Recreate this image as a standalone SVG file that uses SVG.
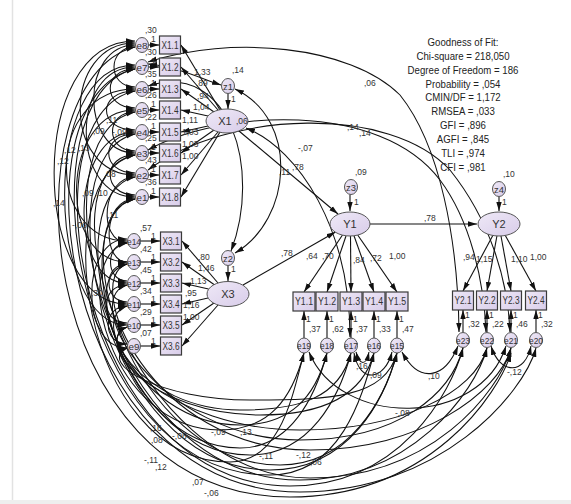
<svg xmlns="http://www.w3.org/2000/svg" width="571" height="504" viewBox="0 0 571 504">
<defs>
<marker id="ah" viewBox="0 0 10 6" refX="10" refY="3" markerWidth="9" markerHeight="6" markerUnits="userSpaceOnUse" orient="auto-start-reverse"><path d="M0,0L10,3L0,6z" fill="#111"/></marker>
<linearGradient id="gf" x1="0" y1="0" x2="1" y2="1"><stop offset="0" stop-color="#efe9f7"/><stop offset="1" stop-color="#d8cce9"/></linearGradient>
</defs>
<style>
.bx{fill:url(#gf);stroke:#3a3a3a;stroke-width:1.2}
.el{fill:url(#gf);stroke:#555;stroke-width:1}
.nt{font-family:"Liberation Sans",Arial,sans-serif;font-size:10px;fill:#333;text-anchor:middle}
.ct{font-family:"Liberation Sans",Arial,sans-serif;font-size:9px;fill:#333;text-anchor:middle}
.lt{font-family:"Liberation Sans",Arial,sans-serif;font-size:11px;fill:#333;text-anchor:middle}
.lb{font-family:"Liberation Sans",Arial,sans-serif;font-size:8.5px;fill:#333}
.gf{font-family:"Liberation Sans",Arial,sans-serif;font-size:10.5px;fill:#222;text-anchor:middle}
.rg{fill:none;stroke:#111;stroke-width:1.1;marker-end:url(#ah)}
.cv{fill:none;stroke:#111;stroke-width:1.05;marker-start:url(#ah);marker-end:url(#ah)}
</style>
<rect x="0" y="0" width="571" height="504" fill="#fff"/>
<line x1="12.5" y1="0" x2="12.5" y2="500" stroke="#e2e2e2" stroke-width="1.5"/>
<rect x="0" y="500" width="571" height="4" fill="#eeeeee"/>

<g id="connectors">
<path class="rg" d="M220,110 L181,45"/>
<path class="rg" d="M218,110 L181,67"/>
<path class="rg" d="M214,112 L181,89"/>
<path class="rg" d="M208,116 L181,110"/>
<path class="rg" d="M208,126 L181,132"/>
<path class="rg" d="M214,130 L181,153"/>
<path class="rg" d="M218,132 L181,175"/>
<path class="rg" d="M220,132 L181,197"/>
<path class="rg" d="M228,93.5 L228,109"/>
<path class="rg" d="M218,283 L182,241"/>
<path class="rg" d="M214,284.5 L182,262"/>
<path class="rg" d="M208.5,289 L182,283"/>
<path class="rg" d="M208,298 L182,304"/>
<path class="rg" d="M214,303 L182,325"/>
<path class="rg" d="M218,305 L182,346"/>
<path class="rg" d="M228,265.5 L228,281"/>
<path class="rg" d="M148.5,45 L159,45"/>
<path class="rg" d="M148.5,67 L159,67"/>
<path class="rg" d="M148.5,89 L159,89"/>
<path class="rg" d="M148.5,110 L159,110"/>
<path class="rg" d="M148.5,132 L159,132"/>
<path class="rg" d="M148.5,153 L159,153"/>
<path class="rg" d="M148.5,175 L159,175"/>
<path class="rg" d="M148.5,197 L159,197"/>
<path class="rg" d="M140.5,241 L160,241"/>
<path class="rg" d="M140.5,262 L160,262"/>
<path class="rg" d="M140.5,283 L160,283"/>
<path class="rg" d="M140.5,304 L160,304"/>
<path class="rg" d="M140.5,325 L160,325"/>
<path class="rg" d="M140.5,346 L160,346"/>
<path class="rg" d="M239,131 L338,214"/>
<path class="rg" d="M243,285 L335.5,232"/>
<path class="rg" d="M370,224 L477,224"/>
<path class="rg" d="M350,194.5 L350,211"/>
<path class="rg" d="M499,196.5 L499,211"/>
<path class="rg" d="M342.5,235 L304,292"/>
<path class="rg" d="M346,236 L327,292"/>
<path class="rg" d="M350.5,236 L351,292"/>
<path class="rg" d="M354,235.7 L374,292"/>
<path class="rg" d="M357.7,235 L397,292"/>
<path class="rg" d="M492.8,235.5 L463,291"/>
<path class="rg" d="M496.9,236 L487,291"/>
<path class="rg" d="M501,236 L511,291"/>
<path class="rg" d="M505.3,235.4 L536,291"/>
<path class="rg" d="M304,338 L304,311"/>
<path class="rg" d="M327,338 L327,311"/>
<path class="rg" d="M351,338 L351,311"/>
<path class="rg" d="M374,338 L374,311"/>
<path class="rg" d="M397,338 L397,311"/>
<path class="rg" d="M463,332.5 L463,310"/>
<path class="rg" d="M487,332.5 L487,310"/>
<path class="rg" d="M511,332.5 L511,310"/>
<path class="rg" d="M536,332.5 L536,310"/>

<path class="cv" d="M135,47 C107,47 107,87 135,87"/>
<path class="cv" d="M135,69 C102,69 102,108 135,108"/>
<path class="cv" d="M135,91 C97,91 97,130 135,130"/>
<path class="cv" d="M135,112 C105,112 105,151 135,151"/>
<path class="cv" d="M135,134 C100,134 100,173 135,173"/>
<path class="cv" d="M135,155 C102,155 102,195 135,195"/>
<path class="cv" d="M135,45 C80,45 80,153 135,153"/>
<path class="cv" d="M135,67 C70,67 70,197 135,197"/>
<path class="cv" d="M135,43 C62,43 62,175 135,175"/>
<path class="cv" d="M135,89 C45,89 45,241 127,241"/>
<path class="cv" d="M135,110 C60,110 57,262 127,262"/>
<path class="cv" d="M135,132 C70,132 67,283 127,283"/>
<path class="cv" d="M135,177 C102,177 97,241 127,243"/>
<path class="cv" d="M135,41 C25,41 32,304 127,304"/>
<path class="cv" d="M135,65 C38,65 47,325 127,325"/>
<path class="cv" d="M127,243 C105,243 105,281 127,281"/>
<path class="cv" d="M127,264 C103,264 103,302 127,302"/>
<path class="cv" d="M127,285 C100,285 100,323 127,323"/>
<path class="cv" d="M127,306 C102,306 102,344 127,344"/>
<path class="cv" d="M127,239 C80,239 80,348 127,348"/>
<path class="cv" d="M135,199 C102,199 102,262 127,262"/>

<path class="cv" d="M135,47 C5,80 30,497 290,497 C430,497 499,393 511,353"/>
<path class="cv" d="M135,69 C10,95 60,492 300,492 C440,492 524,393 536,348"/>
<path class="cv" d="M135,91 C20,115 80,486 290,486 C400,486 451,393 463,348"/>
<path class="cv" d="M135,112 C30,135 100,480 300,480 C410,480 475,393 487,348"/>
<path class="cv" d="M135,134 C40,155 100,470 270,470 C350,470 385,398 397,353"/>
<path class="cv" d="M135,155 C45,175 80,462 230,462 C280,462 292,398 304,353"/>
<path class="cv" d="M135,177 C55,195 110,455 250,455 C310,455 339,398 351,353"/>
<path class="cv" d="M135,199 C65,214 110,448 240,448 C290,448 315,398 327,353"/>
<path class="cv" d="M135,69 C20,95 70,475 270,475 C340,475 362,398 374,353"/>
<path class="cv" d="M127,243 C67,258 110,430 220,430 C270,430 292,398 304,353"/>
<path class="cv" d="M127,264 C72,279 130,425 240,425 C290,425 315,398 327,353"/>
<path class="cv" d="M127,285 C77,300 160,440 300,440 C400,440 451,393 463,348"/>
<path class="cv" d="M127,306 C87,321 140,410 240,410 C300,410 339,398 351,353"/>
<path class="cv" d="M127,327 C87,342 170,430 300,430 C400,430 475,393 487,348"/>
<path class="cv" d="M127,348 C97,363 160,400 250,400 C330,400 385,398 397,353"/>
<path class="cv" d="M127,327 C92,342 150,415 260,415 C320,415 362,398 374,353"/>
<path class="cv" d="M127,264 C80,279 150,450 310,450 C420,450 499,393 511,348"/>
<path class="cv" d="M135,155 C35,175 130,478 310,478 C430,478 499,393 511,348"/>
<path class="cv" d="M135,199 C57,214 130,465 280,465 C350,465 385,398 397,353"/>
<path class="cv" d="M309,352 C340,428 480,428 506,346"/>
<path class="cv" d="M356,352 C360,366 366,366 369,352"/>
<path class="cv" d="M354,353 C360,385 385,380 392,352"/>
<path class="cv" d="M402,352 C420,385 445,378 458,346"/>
<path class="cv" d="M491,346 C500,375 525,375 531,346"/>
<path class="cv" d="M148,62 C230,35 350,45 400,95 C440,145 458,240 459,332"/>
<path class="cv" d="M148,150 C220,110 380,100 440,180 C470,220 484,280 486,332"/>
<path class="cv" d="M148,170 C230,110 390,105 450,170 C490,220 508,280 510,332"/>
<path class="cv" d="M246,128 C300,150 350,230 350,337"/>
<path class="cv" d="M148,64 C175,66 200,78 221,85"/>
<path class="cv" d="M235,89 C300,120 292,220 235,253"/>
<path class="cv" d="M148,86 C230,60 262,170 231,251"/>
</g>

<g id="X1.1"><rect class="bx" x="159.5" y="36" width="21" height="18"/><text class="nt" x="170" y="48.5" textLength="17" lengthAdjust="spacingAndGlyphs">X1.1</text></g>
<g id="X1.2"><rect class="bx" x="159.5" y="58" width="21" height="18"/><text class="nt" x="170" y="70.5" textLength="17" lengthAdjust="spacingAndGlyphs">X1.2</text></g>
<g id="X1.3"><rect class="bx" x="159.5" y="80" width="21" height="18"/><text class="nt" x="170" y="92.5" textLength="17" lengthAdjust="spacingAndGlyphs">X1.3</text></g>
<g id="X1.4"><rect class="bx" x="159.5" y="101" width="21" height="18"/><text class="nt" x="170" y="113.5" textLength="17" lengthAdjust="spacingAndGlyphs">X1.4</text></g>
<g id="X1.5"><rect class="bx" x="159.5" y="123" width="21" height="18"/><text class="nt" x="170" y="135.5" textLength="17" lengthAdjust="spacingAndGlyphs">X1.5</text></g>
<g id="X1.6"><rect class="bx" x="159.5" y="144" width="21" height="18"/><text class="nt" x="170" y="156.5" textLength="17" lengthAdjust="spacingAndGlyphs">X1.6</text></g>
<g id="X1.7"><rect class="bx" x="159.5" y="166" width="21" height="18"/><text class="nt" x="170" y="178.5" textLength="17" lengthAdjust="spacingAndGlyphs">X1.7</text></g>
<g id="X1.8"><rect class="bx" x="159.5" y="188" width="21" height="18"/><text class="nt" x="170" y="200.5" textLength="17" lengthAdjust="spacingAndGlyphs">X1.8</text></g>

<g id="X3.1"><rect class="bx" x="160.5" y="232" width="21" height="18"/><text class="nt" x="171" y="244.5" textLength="17" lengthAdjust="spacingAndGlyphs">X3.1</text></g>
<g id="X3.2"><rect class="bx" x="160.5" y="253" width="21" height="18"/><text class="nt" x="171" y="265.5" textLength="17" lengthAdjust="spacingAndGlyphs">X3.2</text></g>
<g id="X3.3"><rect class="bx" x="160.5" y="274" width="21" height="18"/><text class="nt" x="171" y="286.5" textLength="17" lengthAdjust="spacingAndGlyphs">X3.3</text></g>
<g id="X3.4"><rect class="bx" x="160.5" y="295" width="21" height="18"/><text class="nt" x="171" y="307.5" textLength="17" lengthAdjust="spacingAndGlyphs">X3.4</text></g>
<g id="X3.5"><rect class="bx" x="160.5" y="316" width="21" height="18"/><text class="nt" x="171" y="328.5" textLength="17" lengthAdjust="spacingAndGlyphs">X3.5</text></g>
<g id="X3.6"><rect class="bx" x="160.5" y="337" width="21" height="18"/><text class="nt" x="171" y="349.5" textLength="17" lengthAdjust="spacingAndGlyphs">X3.6</text></g>

<g id="e8"><ellipse class="el" cx="142" cy="45" rx="6.5" ry="7.5"/><text class="ct" x="142" y="48.5" textLength="11" lengthAdjust="spacingAndGlyphs">e8</text></g>
<g id="e7"><ellipse class="el" cx="142" cy="67" rx="6.5" ry="7.5"/><text class="ct" x="142" y="70.5" textLength="11" lengthAdjust="spacingAndGlyphs">e7</text></g>
<g id="e6"><ellipse class="el" cx="142" cy="89" rx="6.5" ry="7.5"/><text class="ct" x="142" y="92.5" textLength="11" lengthAdjust="spacingAndGlyphs">e6</text></g>
<g id="e5"><ellipse class="el" cx="142" cy="110" rx="6.5" ry="7.5"/><text class="ct" x="142" y="113.5" textLength="11" lengthAdjust="spacingAndGlyphs">e5</text></g>
<g id="e4"><ellipse class="el" cx="142" cy="132" rx="6.5" ry="7.5"/><text class="ct" x="142" y="135.5" textLength="11" lengthAdjust="spacingAndGlyphs">e4</text></g>
<g id="e3"><ellipse class="el" cx="142" cy="153" rx="6.5" ry="7.5"/><text class="ct" x="142" y="156.5" textLength="11" lengthAdjust="spacingAndGlyphs">e3</text></g>
<g id="e2"><ellipse class="el" cx="142" cy="175" rx="6.5" ry="7.5"/><text class="ct" x="142" y="178.5" textLength="11" lengthAdjust="spacingAndGlyphs">e2</text></g>
<g id="e1"><ellipse class="el" cx="142" cy="197" rx="6.5" ry="7.5"/><text class="ct" x="142" y="200.5" textLength="11" lengthAdjust="spacingAndGlyphs">e1</text></g>

<g id="e14"><ellipse class="el" cx="134" cy="241" rx="6.5" ry="7.5"/><text class="ct" x="134" y="244.5" textLength="14" lengthAdjust="spacingAndGlyphs">e14</text></g>
<g id="e13"><ellipse class="el" cx="134" cy="262" rx="6.5" ry="7.5"/><text class="ct" x="134" y="265.5" textLength="14" lengthAdjust="spacingAndGlyphs">e13</text></g>
<g id="e12"><ellipse class="el" cx="134" cy="283" rx="6.5" ry="7.5"/><text class="ct" x="134" y="286.5" textLength="14" lengthAdjust="spacingAndGlyphs">e12</text></g>
<g id="e11"><ellipse class="el" cx="134" cy="304" rx="6.5" ry="7.5"/><text class="ct" x="134" y="307.5" textLength="14" lengthAdjust="spacingAndGlyphs">e11</text></g>
<g id="e10"><ellipse class="el" cx="134" cy="325" rx="6.5" ry="7.5"/><text class="ct" x="134" y="328.5" textLength="14" lengthAdjust="spacingAndGlyphs">e10</text></g>
<g id="e9"><ellipse class="el" cx="134" cy="346" rx="6.5" ry="7.5"/><text class="ct" x="134" y="349.5" textLength="11" lengthAdjust="spacingAndGlyphs">e9</text></g>

<g id="X1"><ellipse class="el" cx="227" cy="121" rx="21" ry="12"/><text class="lt" x="225" y="125">X1</text><text class="lb" x="236" y="124">,06</text></g>
<g id="z1"><ellipse class="el" cx="228" cy="86" rx="6.5" ry="7.5"/><text class="ct" x="228" y="89.5" textLength="10" lengthAdjust="spacingAndGlyphs">z1</text></g>
<g id="X3"><ellipse class="el" cx="228" cy="294" rx="21" ry="12.5"/><text class="lt" x="228" y="298">X3</text></g>
<g id="z2"><ellipse class="el" cx="228" cy="258" rx="6.5" ry="7.5"/><text class="ct" x="228" y="261.5" textLength="10" lengthAdjust="spacingAndGlyphs">z2</text></g>
<g id="Y1"><ellipse class="el" cx="350" cy="224" rx="20" ry="12"/><text class="lt" x="350" y="228">Y1</text></g>
<g id="z3"><ellipse class="el" cx="351" cy="187" rx="6.5" ry="7.5"/><text class="ct" x="351" y="190.5" textLength="10" lengthAdjust="spacingAndGlyphs">z3</text></g>
<g id="Y2"><ellipse class="el" cx="499" cy="224" rx="21" ry="12"/><text class="lt" x="499" y="228">Y2</text></g>
<g id="z4"><ellipse class="el" cx="499" cy="189" rx="6.5" ry="7.5"/><text class="ct" x="499" y="192.5" textLength="10" lengthAdjust="spacingAndGlyphs">z4</text></g>

<g id="Y1.1"><rect class="bx" x="293" y="292" width="22" height="19"/><text class="nt" x="304" y="305" textLength="18" lengthAdjust="spacingAndGlyphs">Y1.1</text></g>
<g id="Y1.2"><rect class="bx" x="316" y="292" width="22" height="19"/><text class="nt" x="327" y="305" textLength="18" lengthAdjust="spacingAndGlyphs">Y1.2</text></g>
<g id="Y1.3"><rect class="bx" x="340" y="292" width="22" height="19"/><text class="nt" x="351" y="305" textLength="18" lengthAdjust="spacingAndGlyphs">Y1.3</text></g>
<g id="Y1.4"><rect class="bx" x="363" y="292" width="22" height="19"/><text class="nt" x="374" y="305" textLength="18" lengthAdjust="spacingAndGlyphs">Y1.4</text></g>
<g id="Y1.5"><rect class="bx" x="386" y="292" width="22" height="19"/><text class="nt" x="397" y="305" textLength="18" lengthAdjust="spacingAndGlyphs">Y1.5</text></g>
<g id="Y2.1"><rect class="bx" x="452.5" y="291" width="21" height="19"/><text class="nt" x="463" y="304" textLength="17" lengthAdjust="spacingAndGlyphs">Y2.1</text></g>
<g id="Y2.2"><rect class="bx" x="476.5" y="291" width="21" height="19"/><text class="nt" x="487" y="304" textLength="17" lengthAdjust="spacingAndGlyphs">Y2.2</text></g>
<g id="Y2.3"><rect class="bx" x="500.5" y="291" width="21" height="19"/><text class="nt" x="511" y="304" textLength="17" lengthAdjust="spacingAndGlyphs">Y2.3</text></g>
<g id="Y2.4"><rect class="bx" x="525.5" y="291" width="21" height="19"/><text class="nt" x="536" y="304" textLength="17" lengthAdjust="spacingAndGlyphs">Y2.4</text></g>

<g id="e19"><ellipse class="el" cx="304" cy="345.5" rx="6.5" ry="7.5"/><text class="ct" x="304" y="349" textLength="14" lengthAdjust="spacingAndGlyphs">e19</text></g>
<g id="e18"><ellipse class="el" cx="327" cy="345.5" rx="6.5" ry="7.5"/><text class="ct" x="327" y="349" textLength="14" lengthAdjust="spacingAndGlyphs">e18</text></g>
<g id="e17"><ellipse class="el" cx="351" cy="345.5" rx="6.5" ry="7.5"/><text class="ct" x="351" y="349" textLength="14" lengthAdjust="spacingAndGlyphs">e17</text></g>
<g id="e16"><ellipse class="el" cx="374" cy="345.5" rx="6.5" ry="7.5"/><text class="ct" x="374" y="349" textLength="14" lengthAdjust="spacingAndGlyphs">e16</text></g>
<g id="e15"><ellipse class="el" cx="397" cy="345.5" rx="6.5" ry="7.5"/><text class="ct" x="397" y="349" textLength="14" lengthAdjust="spacingAndGlyphs">e15</text></g>
<g id="e23"><ellipse class="el" cx="463" cy="340" rx="6.5" ry="7.5"/><text class="ct" x="463" y="343.5" textLength="14" lengthAdjust="spacingAndGlyphs">e23</text></g>
<g id="e22"><ellipse class="el" cx="487" cy="340" rx="6.5" ry="7.5"/><text class="ct" x="487" y="343.5" textLength="14" lengthAdjust="spacingAndGlyphs">e22</text></g>
<g id="e21"><ellipse class="el" cx="511" cy="340" rx="6.5" ry="7.5"/><text class="ct" x="511" y="343.5" textLength="14" lengthAdjust="spacingAndGlyphs">e21</text></g>
<g id="e20"><ellipse class="el" cx="536" cy="340" rx="6.5" ry="7.5"/><text class="ct" x="536" y="343.5" textLength="14" lengthAdjust="spacingAndGlyphs">e20</text></g>

<g id="labels">
<text class="lb" x="145" y="33">,30</text><text class="lb" x="151" y="42">1</text>
<text class="lb" x="145" y="55">,30</text><text class="lb" x="151" y="64">1</text>
<text class="lb" x="145" y="77">,35</text><text class="lb" x="151" y="86">1</text>
<text class="lb" x="145" y="98">,26</text><text class="lb" x="151" y="107">1</text>
<text class="lb" x="145" y="120">,22</text><text class="lb" x="151" y="129">1</text>
<text class="lb" x="145" y="141">,25</text><text class="lb" x="151" y="150">1</text>
<text class="lb" x="145" y="163">,43</text><text class="lb" x="151" y="172">1</text>
<text class="lb" x="145" y="185">,36</text><text class="lb" x="151" y="194">1</text>
<text class="lb" x="140" y="231">,57</text><text class="lb" x="151" y="239">1</text>
<text class="lb" x="140" y="252">,42</text><text class="lb" x="151" y="260">1</text>
<text class="lb" x="140" y="273">,45</text><text class="lb" x="151" y="281">1</text>
<text class="lb" x="140" y="294">,34</text><text class="lb" x="151" y="302">1</text>
<text class="lb" x="140" y="315">,29</text><text class="lb" x="151" y="323">1</text>
<text class="lb" x="140" y="336">,07</text><text class="lb" x="151" y="344">1</text>
<text class="lb" x="194" y="75">1,33</text>
<text class="lb" x="196" y="86">,89</text>
<text class="lb" x="197" y="99">,94</text>
<text class="lb" x="193" y="110">1,04</text>
<text class="lb" x="182" y="123">1,11</text>
<text class="lb" x="182" y="135">1,03</text>
<text class="lb" x="182" y="147">1,03</text>
<text class="lb" x="182" y="159">1,00</text>
<text class="lb" x="198" y="260">,80</text>
<text class="lb" x="198" y="271">1,46</text>
<text class="lb" x="190" y="284">1,13</text>
<text class="lb" x="185" y="296">,95</text>
<text class="lb" x="183" y="308">1,16</text>
<text class="lb" x="183" y="320">1,00</text>
<text class="lb" x="232" y="73">,14</text><text class="lb" x="231" y="102">1</text>
<text class="lb" x="231" y="272">1</text>
<text class="lb" x="355" y="175">,09</text><text class="lb" x="354" y="205">1</text>
<text class="lb" x="503" y="177">,10</text><text class="lb" x="502" y="205">1</text>
<text class="lb" x="292" y="170">,78</text>
<text class="lb" x="279" y="175">,11</text>
<text class="lb" x="298" y="151">-,07</text>
<text class="lb" x="281" y="256">,78</text>
<text class="lb" x="424" y="221">,78</text>
<text class="lb" x="347" y="130">,14</text>
<text class="lb" x="359" y="136">,14</text>
<text class="lb" x="364" y="86">,06</text>
<text class="lb" x="306" y="259">,64</text>
<text class="lb" x="322" y="259">,70</text>
<text class="lb" x="353" y="263">,84</text>
<text class="lb" x="370" y="261">,72</text>
<text class="lb" x="389" y="259">1,00</text>
<text class="lb" x="463" y="260">,94</text>
<text class="lb" x="476" y="262">1,15</text>
<text class="lb" x="511" y="262">1,10</text>
<text class="lb" x="530" y="260">1,00</text>
<text class="lb" x="306" y="322">1</text><text class="lb" x="309" y="332">,37</text>
<text class="lb" x="329" y="322">1</text><text class="lb" x="332" y="332">,62</text>
<text class="lb" x="353" y="322">1</text><text class="lb" x="356" y="332">,37</text>
<text class="lb" x="376" y="322">1</text><text class="lb" x="379" y="332">,33</text>
<text class="lb" x="399" y="322">1</text><text class="lb" x="402" y="332">,47</text>
<text class="lb" x="465" y="318">1</text><text class="lb" x="468" y="327">,32</text>
<text class="lb" x="489" y="318">1</text><text class="lb" x="492" y="327">,22</text>
<text class="lb" x="513" y="318">1</text><text class="lb" x="516" y="327">,46</text>
<text class="lb" x="538" y="318">1</text><text class="lb" x="541" y="327">,32</text>
<text class="lb" x="93" y="134">,09</text>
<text class="lb" x="106" y="123">,11</text>
<text class="lb" x="112" y="135">-,09</text>
<text class="lb" x="64" y="153">,12</text>
<text class="lb" x="78" y="151">,13</text>
<text class="lb" x="57" y="164">,12</text>
<text class="lb" x="104" y="177">,08</text>
<text class="lb" x="82" y="196">,09</text>
<text class="lb" x="96" y="196">,10</text>
<text class="lb" x="53" y="206">,14</text>
<text class="lb" x="107" y="218">,11</text>
<text class="lb" x="72" y="228">-,06</text>
<text class="lb" x="91" y="296">,30</text>
<text class="lb" x="150" y="431">,16</text>
<text class="lb" x="151" y="443">,08</text>
<text class="lb" x="172" y="439">-,06</text>
<text class="lb" x="144" y="463">-,11</text>
<text class="lb" x="155" y="470">,12</text>
<text class="lb" x="211" y="435">-,09</text>
<text class="lb" x="240" y="435">,13</text>
<text class="lb" x="259" y="459">-,11</text>
<text class="lb" x="296" y="458">-,12</text>
<text class="lb" x="310" y="465">,06</text>
<text class="lb" x="192" y="485">,07</text>
<text class="lb" x="204" y="496">-,06</text>
<text class="lb" x="395" y="416">-,08</text>
<text class="lb" x="428" y="379">,10</text>
<text class="lb" x="507" y="375">-,12</text>
<text class="lb" x="370" y="378">,09</text>
<text class="lb" x="356" y="369">,16</text>
</g>

<g id="fit" transform="translate(463,0) scale(0.92,1)">
<text class="gf" x="0" y="46">Goodness of Fit:</text>
<text class="gf" x="0" y="60">Chi-square = 218,050</text>
<text class="gf" x="0" y="74">Degree of Freedom = 186</text>
<text class="gf" x="0" y="88">Probability = ,054</text>
<text class="gf" x="0" y="101.5">CMIN/DF = 1,172</text>
<text class="gf" x="0" y="115.5">RMSEA = ,033</text>
<text class="gf" x="0" y="129.5">GFI = ,896</text>
<text class="gf" x="0" y="143">AGFI = ,845</text>
<text class="gf" x="0" y="157">TLI = ,974</text>
<text class="gf" x="0" y="171">CFI = ,981</text>
</g>
</svg>
